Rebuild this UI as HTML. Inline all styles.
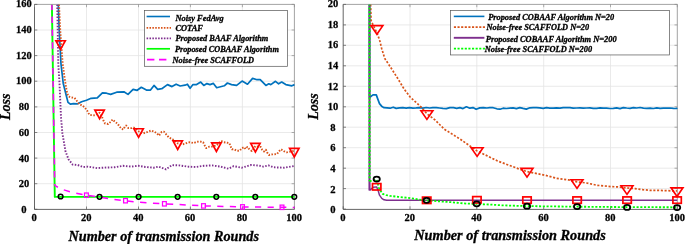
<!DOCTYPE html>
<html><head><meta charset="utf-8"><title>Loss vs transmission rounds</title>
<style>html,body{margin:0;padding:0;background:#fff;width:685px;height:244px;overflow:hidden}</style></head>
<body>
<svg width="685" height="244" viewBox="0 0 685 244" style="display:block;position:absolute;left:0;top:0;will-change:transform;font-family:'Liberation Serif',serif;font-weight:bold">
<rect width="685" height="244" fill="#fff"/>
<line x1="86.5" y1="4.4" x2="86.5" y2="209.3" stroke="#e4e4e4" stroke-width="0.8"/>
<line x1="138.5" y1="4.4" x2="138.5" y2="209.3" stroke="#e4e4e4" stroke-width="0.8"/>
<line x1="190.4" y1="4.4" x2="190.4" y2="209.3" stroke="#e4e4e4" stroke-width="0.8"/>
<line x1="242.4" y1="4.4" x2="242.4" y2="209.3" stroke="#e4e4e4" stroke-width="0.8"/>
<line x1="34.5" y1="183.7" x2="294.4" y2="183.7" stroke="#e4e4e4" stroke-width="0.8"/>
<line x1="34.5" y1="158.1" x2="294.4" y2="158.1" stroke="#e4e4e4" stroke-width="0.8"/>
<line x1="34.5" y1="132.5" x2="294.4" y2="132.5" stroke="#e4e4e4" stroke-width="0.8"/>
<line x1="34.5" y1="106.9" x2="294.4" y2="106.9" stroke="#e4e4e4" stroke-width="0.8"/>
<line x1="34.5" y1="81.2" x2="294.4" y2="81.2" stroke="#e4e4e4" stroke-width="0.8"/>
<line x1="34.5" y1="55.6" x2="294.4" y2="55.6" stroke="#e4e4e4" stroke-width="0.8"/>
<line x1="34.5" y1="30.0" x2="294.4" y2="30.0" stroke="#e4e4e4" stroke-width="0.8"/>
<polyline points="34.5,4.4 294.4,4.4 294.4,209.3" fill="none" stroke="#8c8c8c" stroke-width="0.8"/>
<polyline points="34.5,4.4 34.5,209.4 294.4,209.4" fill="none" stroke="#555" stroke-width="0.9"/>
<line x1="34.5" y1="209.3" x2="34.5" y2="206.5" stroke="#555" stroke-width="0.7"/>
<line x1="34.5" y1="4.4" x2="34.5" y2="7.2" stroke="#8c8c8c" stroke-width="0.7"/>
<line x1="86.5" y1="209.3" x2="86.5" y2="206.5" stroke="#555" stroke-width="0.7"/>
<line x1="86.5" y1="4.4" x2="86.5" y2="7.2" stroke="#8c8c8c" stroke-width="0.7"/>
<line x1="138.5" y1="209.3" x2="138.5" y2="206.5" stroke="#555" stroke-width="0.7"/>
<line x1="138.5" y1="4.4" x2="138.5" y2="7.2" stroke="#8c8c8c" stroke-width="0.7"/>
<line x1="190.4" y1="209.3" x2="190.4" y2="206.5" stroke="#555" stroke-width="0.7"/>
<line x1="190.4" y1="4.4" x2="190.4" y2="7.2" stroke="#8c8c8c" stroke-width="0.7"/>
<line x1="242.4" y1="209.3" x2="242.4" y2="206.5" stroke="#555" stroke-width="0.7"/>
<line x1="242.4" y1="4.4" x2="242.4" y2="7.2" stroke="#8c8c8c" stroke-width="0.7"/>
<line x1="294.4" y1="209.3" x2="294.4" y2="206.5" stroke="#555" stroke-width="0.7"/>
<line x1="294.4" y1="4.4" x2="294.4" y2="7.2" stroke="#8c8c8c" stroke-width="0.7"/>
<line x1="34.5" y1="209.3" x2="37.3" y2="209.3" stroke="#555" stroke-width="0.7"/>
<line x1="294.4" y1="209.3" x2="291.59999999999997" y2="209.3" stroke="#8c8c8c" stroke-width="0.7"/>
<line x1="34.5" y1="183.7" x2="37.3" y2="183.7" stroke="#555" stroke-width="0.7"/>
<line x1="294.4" y1="183.7" x2="291.59999999999997" y2="183.7" stroke="#8c8c8c" stroke-width="0.7"/>
<line x1="34.5" y1="158.1" x2="37.3" y2="158.1" stroke="#555" stroke-width="0.7"/>
<line x1="294.4" y1="158.1" x2="291.59999999999997" y2="158.1" stroke="#8c8c8c" stroke-width="0.7"/>
<line x1="34.5" y1="132.5" x2="37.3" y2="132.5" stroke="#555" stroke-width="0.7"/>
<line x1="294.4" y1="132.5" x2="291.59999999999997" y2="132.5" stroke="#8c8c8c" stroke-width="0.7"/>
<line x1="34.5" y1="106.9" x2="37.3" y2="106.9" stroke="#555" stroke-width="0.7"/>
<line x1="294.4" y1="106.9" x2="291.59999999999997" y2="106.9" stroke="#8c8c8c" stroke-width="0.7"/>
<line x1="34.5" y1="81.2" x2="37.3" y2="81.2" stroke="#555" stroke-width="0.7"/>
<line x1="294.4" y1="81.2" x2="291.59999999999997" y2="81.2" stroke="#8c8c8c" stroke-width="0.7"/>
<line x1="34.5" y1="55.6" x2="37.3" y2="55.6" stroke="#555" stroke-width="0.7"/>
<line x1="294.4" y1="55.6" x2="291.59999999999997" y2="55.6" stroke="#8c8c8c" stroke-width="0.7"/>
<line x1="34.5" y1="30.0" x2="37.3" y2="30.0" stroke="#555" stroke-width="0.7"/>
<line x1="294.4" y1="30.0" x2="291.59999999999997" y2="30.0" stroke="#8c8c8c" stroke-width="0.7"/>
<line x1="34.5" y1="4.4" x2="37.3" y2="4.4" stroke="#555" stroke-width="0.7"/>
<line x1="294.4" y1="4.4" x2="291.59999999999997" y2="4.4" stroke="#8c8c8c" stroke-width="0.7"/>
<clipPath id="cl"><rect x="34.5" y="4.4" width="260.3" height="205"/></clipPath>
<g clip-path="url(#cl)">
<polyline points="58.3,4.4 59.2,30.0 61.0,64.0 63.2,83.2 66.9,98.0 68.0,102.4 70.6,104.2 73.5,103.7 77.2,103.9 81.6,101.7 86.5,100.2 91.1,98.3 97.3,97.9 102.4,92.8 106.5,93.2 110.6,94.4 116.7,92.2 123.9,91.8 128.0,94.4 133.1,89.3 137.2,90.3 141.3,87.3 146.4,90.1 150.5,90.1 154.0,85.4 157.7,89.3 161.8,88.7 167.5,84.6 172.0,86.6 176.1,84.2 180.2,86.0 185.0,85.2 187.4,84.2 190.1,88.3 193.0,84.6 196.6,84.6 200.7,82.1 203.8,85.4 206.9,83.6 210.0,84.6 213.4,83.4 216.7,87.7 224.3,85.8 227.4,83.0 231.5,84.6 236.6,85.4 242.1,81.1 247.5,84.2 252.6,78.4 257.1,79.7 260.2,79.7 265.9,85.4 268.8,83.8 270.8,84.6 275.5,81.3 278.6,83.8 281.7,82.1 285.8,84.6 291.9,85.8 294.6,84.6" fill="none" stroke="#0072BD" stroke-width="1.7" stroke-linejoin="round"/>
<polyline points="59.0,4.4 60.2,30.0 62.7,64.0 64.7,78.7 66.6,90.5 67.3,93.6 68.6,96.5 71.3,97.4 74.5,97.9 76.3,100.1 78.1,102.8 79.9,104.6 82.6,105.5 84.9,107.8 87.1,110.5 88.5,113.2 89.7,115.0 94.9,115.4 99.6,112.7 102.3,117.7 103.6,120.8 105.0,123.5 108.1,124.0 110.8,121.7 112.6,119.5 114.9,121.7 117.6,123.7 119.4,126.4 121.7,129.0 123.5,129.4 124.8,126.7 126.2,125.5 128.4,128.1 131.6,128.1 133.8,127.6 136.5,129.5 138.6,131.3 142.7,133.5 146.3,132.3 151.3,130.5 154.4,131.7 157.1,133.5 159.0,135.6 161.7,131.9 163.9,131.7 166.2,134.4 168.9,137.5 172.5,139.2 177.5,143.3 182.4,144.3 185.1,143.7 187.8,142.5 190.0,142.2 193.6,143.1 196.8,141.8 199.9,141.5 203.1,142.2 204.4,144.9 206.2,148.1 209.4,146.7 211.7,146.6 216.5,145.4 221.1,140.9 223.8,142.2 227.0,142.7 229.3,143.1 230.6,146.3 232.0,149.3 234.2,149.3 236.9,150.8 239.6,150.8 241.9,148.1 244.2,147.2 245.5,149.1 247.3,147.0 249.5,149.3 251.8,151.1 255.4,146.1 260.8,147.0 262.1,149.7 264.0,151.5 265.9,149.7 267.1,152.4 268.9,155.0 272.1,154.4 277.0,154.1 278.8,151.5 281.1,149.3 283.8,151.1 286.5,152.4 289.7,151.7 294.4,150.9" fill="none" stroke="#D95319" stroke-width="1.9" stroke-linejoin="round" stroke-dasharray="1.5 1.5"/>
<polyline points="57.2,4.4 57.7,30.0 58.3,64.0 59.5,83.2 60.2,99.4 61.0,117.2 62.4,133.4 63.9,142.0 65.5,151.3 68.6,159.5 72.7,164.6 77.8,165.0 82.9,167.0 88.0,166.6 97.3,168.1 106.5,167.5 114.7,167.3 122.9,165.8 131.1,166.6 138.2,165.8 145.4,167.0 153.6,167.7 158.7,166.6 165.9,169.4 172.0,165.1 179.3,165.4 187.5,166.6 195.7,167.0 203.9,165.8 212.1,165.4 220.3,166.6 228.5,168.7 233.6,166.2 241.8,167.7 251.1,165.0 259.3,165.6 263.4,166.6 268.5,165.4 273.6,167.3 283.9,167.7 294.6,166.0" fill="none" stroke="#7E2F8E" stroke-width="1.9" stroke-linejoin="round" stroke-dasharray="1.5 1.55"/>
<polyline points="51.9,4.4 54.8,196.9 294.6,196.9" fill="none" stroke="#00FF00" stroke-width="1.9" stroke-linejoin="round"/>
<polyline points="51.9,4.4 54.7,185.4" fill="none" stroke="#FF00FF" stroke-width="1.6" stroke-linejoin="round" stroke-dasharray="6.4 6.47" stroke-dashoffset="0.67"/>
<polyline points="54.7,185.4 60.7,188.9 71.0,192.1 86.4,195.2 99.7,197.3 112.0,199.1 125.3,200.7 138.6,202.2 153.0,203.2 164.2,203.8" fill="none" stroke="#FF00FF" stroke-width="1.5" stroke-linejoin="round" stroke-dasharray="6.4 6.5" stroke-dashoffset="2.7"/>
<polyline points="164.2,203.8 203.5,205.9 242.5,206.9 282.0,207.3 294.6,207.4" fill="none" stroke="#FF00FF" stroke-width="1.5" stroke-linejoin="round" stroke-dasharray="6.2 6.38" stroke-dashoffset="9.78"/>
</g>
<path d="M55.90,40.73 L65.30,40.73 L60.60,49.33 Z" fill="none" stroke="#FF0000" stroke-width="1.7" stroke-linejoin="miter"/>
<path d="M94.90,110.13 L104.30,110.13 L99.60,118.73 Z" fill="none" stroke="#FF0000" stroke-width="1.7" stroke-linejoin="miter"/>
<path d="M133.90,128.73 L143.30,128.73 L138.60,137.33 Z" fill="none" stroke="#FF0000" stroke-width="1.7" stroke-linejoin="miter"/>
<path d="M173.00,140.83 L182.40,140.83 L177.70,149.43 Z" fill="none" stroke="#FF0000" stroke-width="1.7" stroke-linejoin="miter"/>
<path d="M211.70,142.83 L221.10,142.83 L216.40,151.43 Z" fill="none" stroke="#FF0000" stroke-width="1.7" stroke-linejoin="miter"/>
<path d="M250.70,143.43 L260.10,143.43 L255.40,152.03 Z" fill="none" stroke="#FF0000" stroke-width="1.7" stroke-linejoin="miter"/>
<path d="M289.60,148.33 L299.00,148.33 L294.30,156.93 Z" fill="none" stroke="#FF0000" stroke-width="1.7" stroke-linejoin="miter"/>
<ellipse cx="60.6" cy="196.5" rx="2.35" ry="2.35" fill="none" stroke="#000" stroke-width="1.5"/>
<ellipse cx="99.5" cy="196.8" rx="2.35" ry="2.35" fill="none" stroke="#000" stroke-width="1.5"/>
<ellipse cx="138.6" cy="196.8" rx="2.35" ry="2.35" fill="none" stroke="#000" stroke-width="1.5"/>
<ellipse cx="177.6" cy="196.8" rx="2.35" ry="2.35" fill="none" stroke="#000" stroke-width="1.5"/>
<ellipse cx="216.3" cy="196.8" rx="2.35" ry="2.35" fill="none" stroke="#000" stroke-width="1.5"/>
<ellipse cx="255.3" cy="196.8" rx="2.35" ry="2.35" fill="none" stroke="#000" stroke-width="1.5"/>
<ellipse cx="294.3" cy="196.8" rx="2.35" ry="2.35" fill="none" stroke="#000" stroke-width="1.5"/>
<rect x="84.50" y="193.00" width="3.8" height="4.4" fill="none" stroke="#FF00FF" stroke-width="1.25"/>
<rect x="123.60" y="198.50" width="3.8" height="4.4" fill="none" stroke="#FF00FF" stroke-width="1.25"/>
<rect x="162.50" y="201.60" width="3.8" height="4.4" fill="none" stroke="#FF00FF" stroke-width="1.25"/>
<rect x="201.60" y="203.70" width="3.8" height="4.4" fill="none" stroke="#FF00FF" stroke-width="1.25"/>
<rect x="240.60" y="204.70" width="3.8" height="4.4" fill="none" stroke="#FF00FF" stroke-width="1.25"/>
<rect x="280.10" y="205.10" width="3.8" height="4.4" fill="none" stroke="#FF00FF" stroke-width="1.25"/>
<line x1="410.0" y1="4.4" x2="410.0" y2="209.1" stroke="#e4e4e4" stroke-width="0.8"/>
<line x1="476.8" y1="4.4" x2="476.8" y2="209.1" stroke="#e4e4e4" stroke-width="0.8"/>
<line x1="543.7" y1="4.4" x2="543.7" y2="209.1" stroke="#e4e4e4" stroke-width="0.8"/>
<line x1="610.5" y1="4.4" x2="610.5" y2="209.1" stroke="#e4e4e4" stroke-width="0.8"/>
<line x1="343.2" y1="188.6" x2="677.3" y2="188.6" stroke="#e4e4e4" stroke-width="0.8"/>
<line x1="343.2" y1="168.2" x2="677.3" y2="168.2" stroke="#e4e4e4" stroke-width="0.8"/>
<line x1="343.2" y1="147.7" x2="677.3" y2="147.7" stroke="#e4e4e4" stroke-width="0.8"/>
<line x1="343.2" y1="127.2" x2="677.3" y2="127.2" stroke="#e4e4e4" stroke-width="0.8"/>
<line x1="343.2" y1="106.8" x2="677.3" y2="106.8" stroke="#e4e4e4" stroke-width="0.8"/>
<line x1="343.2" y1="86.3" x2="677.3" y2="86.3" stroke="#e4e4e4" stroke-width="0.8"/>
<line x1="343.2" y1="65.8" x2="677.3" y2="65.8" stroke="#e4e4e4" stroke-width="0.8"/>
<line x1="343.2" y1="45.3" x2="677.3" y2="45.3" stroke="#e4e4e4" stroke-width="0.8"/>
<line x1="343.2" y1="24.9" x2="677.3" y2="24.9" stroke="#e4e4e4" stroke-width="0.8"/>
<polyline points="343.2,4.4 677.3,4.4 677.3,209.1" fill="none" stroke="#8c8c8c" stroke-width="0.8"/>
<polyline points="343.2,4.4 343.2,209.4 677.3,209.4" fill="none" stroke="#555" stroke-width="0.9"/>
<line x1="343.2" y1="209.1" x2="343.2" y2="206.29999999999998" stroke="#555" stroke-width="0.7"/>
<line x1="343.2" y1="4.4" x2="343.2" y2="7.2" stroke="#8c8c8c" stroke-width="0.7"/>
<line x1="410.0" y1="209.1" x2="410.0" y2="206.29999999999998" stroke="#555" stroke-width="0.7"/>
<line x1="410.0" y1="4.4" x2="410.0" y2="7.2" stroke="#8c8c8c" stroke-width="0.7"/>
<line x1="476.8" y1="209.1" x2="476.8" y2="206.29999999999998" stroke="#555" stroke-width="0.7"/>
<line x1="476.8" y1="4.4" x2="476.8" y2="7.2" stroke="#8c8c8c" stroke-width="0.7"/>
<line x1="543.7" y1="209.1" x2="543.7" y2="206.29999999999998" stroke="#555" stroke-width="0.7"/>
<line x1="543.7" y1="4.4" x2="543.7" y2="7.2" stroke="#8c8c8c" stroke-width="0.7"/>
<line x1="610.5" y1="209.1" x2="610.5" y2="206.29999999999998" stroke="#555" stroke-width="0.7"/>
<line x1="610.5" y1="4.4" x2="610.5" y2="7.2" stroke="#8c8c8c" stroke-width="0.7"/>
<line x1="677.3" y1="209.1" x2="677.3" y2="206.29999999999998" stroke="#555" stroke-width="0.7"/>
<line x1="677.3" y1="4.4" x2="677.3" y2="7.2" stroke="#8c8c8c" stroke-width="0.7"/>
<line x1="343.2" y1="209.1" x2="346.0" y2="209.1" stroke="#555" stroke-width="0.7"/>
<line x1="677.3" y1="209.1" x2="674.5" y2="209.1" stroke="#8c8c8c" stroke-width="0.7"/>
<line x1="343.2" y1="188.6" x2="346.0" y2="188.6" stroke="#555" stroke-width="0.7"/>
<line x1="677.3" y1="188.6" x2="674.5" y2="188.6" stroke="#8c8c8c" stroke-width="0.7"/>
<line x1="343.2" y1="168.2" x2="346.0" y2="168.2" stroke="#555" stroke-width="0.7"/>
<line x1="677.3" y1="168.2" x2="674.5" y2="168.2" stroke="#8c8c8c" stroke-width="0.7"/>
<line x1="343.2" y1="147.7" x2="346.0" y2="147.7" stroke="#555" stroke-width="0.7"/>
<line x1="677.3" y1="147.7" x2="674.5" y2="147.7" stroke="#8c8c8c" stroke-width="0.7"/>
<line x1="343.2" y1="127.2" x2="346.0" y2="127.2" stroke="#555" stroke-width="0.7"/>
<line x1="677.3" y1="127.2" x2="674.5" y2="127.2" stroke="#8c8c8c" stroke-width="0.7"/>
<line x1="343.2" y1="106.8" x2="346.0" y2="106.8" stroke="#555" stroke-width="0.7"/>
<line x1="677.3" y1="106.8" x2="674.5" y2="106.8" stroke="#8c8c8c" stroke-width="0.7"/>
<line x1="343.2" y1="86.3" x2="346.0" y2="86.3" stroke="#555" stroke-width="0.7"/>
<line x1="677.3" y1="86.3" x2="674.5" y2="86.3" stroke="#8c8c8c" stroke-width="0.7"/>
<line x1="343.2" y1="65.8" x2="346.0" y2="65.8" stroke="#555" stroke-width="0.7"/>
<line x1="677.3" y1="65.8" x2="674.5" y2="65.8" stroke="#8c8c8c" stroke-width="0.7"/>
<line x1="343.2" y1="45.3" x2="346.0" y2="45.3" stroke="#555" stroke-width="0.7"/>
<line x1="677.3" y1="45.3" x2="674.5" y2="45.3" stroke="#8c8c8c" stroke-width="0.7"/>
<line x1="343.2" y1="24.9" x2="346.0" y2="24.9" stroke="#555" stroke-width="0.7"/>
<line x1="677.3" y1="24.9" x2="674.5" y2="24.9" stroke="#8c8c8c" stroke-width="0.7"/>
<line x1="343.2" y1="4.4" x2="346.0" y2="4.4" stroke="#555" stroke-width="0.7"/>
<line x1="677.3" y1="4.4" x2="674.5" y2="4.4" stroke="#8c8c8c" stroke-width="0.7"/>
<clipPath id="cr"><rect x="343.2" y="4.4" width="334.5" height="204.7"/></clipPath>
<g clip-path="url(#cr)">
<polyline points="369.5,4.4 369.5,97.5 373.0,94.8 376.3,94.9 378.0,99.6 379.5,103.6 382.0,106.6 384.0,107.7 390.1,108.2 393.2,107.2 396.2,108.4 399.5,107.9 402.8,107.7 406.2,108.2 409.5,107.6 412.9,108.1 416.2,107.9 419.5,107.6 422.9,108.1 426.2,107.5 429.6,108.0 432.9,107.6 436.3,107.6 439.6,108.0 442.9,108.4 446.3,108.6 449.9,107.6 453.5,107.6 456.7,108.3 459.9,107.6 463.0,108.6 466.4,106.8 469.8,108.2 473.0,107.6 476.1,109.3 479.7,107.9 483.3,107.6 486.9,108.0 489.7,107.7 493.2,107.7 496.9,108.8 500.0,109.2 503.1,108.2 506.4,108.5 509.8,108.1 513.1,107.9 516.4,108.6 519.8,107.6 523.1,108.4 526.3,109.1 529.8,107.8 533.1,107.7 536.5,107.6 539.8,107.8 543.2,108.4 546.5,107.7 549.8,108.1 553.2,108.2 556.5,107.9 559.9,108.1 563.2,107.6 566.6,107.6 569.9,107.7 573.2,108.2 576.6,108.0 579.9,107.8 583.3,108.1 586.6,108.0 589.9,107.8 593.3,108.4 596.6,108.3 600.0,107.8 603.3,108.1 606.6,108.1 610.0,108.5 613.3,108.3 616.7,107.8 620.0,108.6 623.3,107.6 626.7,108.0 630.0,108.3 633.4,107.7 636.7,108.0 640.1,107.5 643.4,108.2 646.7,108.3 650.1,108.1 653.4,108.5 656.8,107.8 660.1,108.3 663.4,108.2 666.8,108.1 670.1,108.0 673.5,108.4 676.8,108.5 677.3,107.8" fill="none" stroke="#0072BD" stroke-width="1.7" stroke-linejoin="round"/>
<polyline points="370.6,4.4 371.1,20.5 373.5,26.0 376.9,32.8 379.6,40.0 381.6,48.2 384.7,58.4 390.9,67.7 398.0,78.9 404.2,89.2 410.5,97.4 420.7,106.6 426.9,113.8 435.1,120.0 444.3,129.2 460.7,139.5 476.7,150.7 497.6,161.0 518.1,168.6 527.0,171.6 545.0,175.2 556.7,178.3 568.5,179.9 577.0,181.8 586.5,183.0 597.3,185.3 604.6,186.0 611.0,186.6 619.0,187.0 627.0,188.0 635.0,188.6 643.0,189.7 650.5,190.4 658.7,190.4 677.3,191.0" fill="none" stroke="#D95319" stroke-width="1.7" stroke-linejoin="round" stroke-dasharray="2.1 1.65"/>
<polyline points="369.5,4.4 369.5,190.4" fill="none" stroke="#7E2F8E" stroke-width="2.1" stroke-linejoin="round"/>
<polyline points="369.5,190.4 373.3,187.2 376.7,186.9 378.2,190.7 379.5,195.2 381.8,198.4 384.0,199.8 386.7,200.3 677.3,200.3" fill="none" stroke="#7E2F8E" stroke-width="1.45" stroke-linejoin="round"/>
<polyline points="369.5,4.4 369.6,181.3" fill="none" stroke="#00FF00" stroke-width="2.1" stroke-linejoin="round" stroke-dasharray="1.9 1.85" stroke-dashoffset="0.6"/>
<polyline points="369.6,181.3 373.3,180.3 376.7,179.7 378.0,184.6 378.9,187.8 380.4,190.7 382.7,193.9 386.3,195.2 390.3,195.9 398.0,196.8 406.1,197.7 414.7,198.8 419.2,199.6 426.6,200.4 442.7,201.6 450.8,202.2 459.0,203.0 467.0,203.6 476.6,203.9 484.2,204.3 492.3,204.7 499.6,205.2 510.0,205.6 519.9,205.9 527.0,206.1 551.0,206.4 577.0,206.7 627.0,207.1 677.3,207.3" fill="none" stroke="#00FF00" stroke-width="1.8" stroke-linejoin="round" stroke-dasharray="2.1 1.65"/>
</g>
<path d="M370.95,25.60 L382.85,25.60 L376.90,34.30 Z" fill="none" stroke="#FF0000" stroke-width="1.65" stroke-linejoin="miter"/>
<path d="M420.95,110.70 L432.85,110.70 L426.90,119.40 Z" fill="none" stroke="#FF0000" stroke-width="1.65" stroke-linejoin="miter"/>
<path d="M471.15,147.70 L483.05,147.70 L477.10,156.40 Z" fill="none" stroke="#FF0000" stroke-width="1.65" stroke-linejoin="miter"/>
<path d="M521.05,168.40 L532.95,168.40 L527.00,177.10 Z" fill="none" stroke="#FF0000" stroke-width="1.65" stroke-linejoin="miter"/>
<path d="M571.05,179.70 L582.95,179.70 L577.00,188.40 Z" fill="none" stroke="#FF0000" stroke-width="1.65" stroke-linejoin="miter"/>
<path d="M621.05,185.70 L632.95,185.70 L627.00,194.40 Z" fill="none" stroke="#FF0000" stroke-width="1.65" stroke-linejoin="miter"/>
<path d="M671.05,187.80 L682.95,187.80 L677.00,196.50 Z" fill="none" stroke="#FF0000" stroke-width="1.65" stroke-linejoin="miter"/>
<rect x="372.50" y="183.60" width="8.4" height="6.4" fill="none" stroke="#FF0000" stroke-width="1.7"/>
<rect x="422.50" y="197.10" width="8.4" height="6.4" fill="none" stroke="#FF0000" stroke-width="1.7"/>
<rect x="472.70" y="196.60" width="8.4" height="6.4" fill="none" stroke="#FF0000" stroke-width="1.7"/>
<rect x="522.80" y="196.90" width="8.4" height="6.4" fill="none" stroke="#FF0000" stroke-width="1.7"/>
<rect x="572.90" y="196.90" width="8.4" height="6.4" fill="none" stroke="#FF0000" stroke-width="1.7"/>
<rect x="622.90" y="196.90" width="8.4" height="6.4" fill="none" stroke="#FF0000" stroke-width="1.7"/>
<rect x="672.90" y="196.90" width="8.4" height="6.4" fill="none" stroke="#FF0000" stroke-width="1.7"/>
<ellipse cx="376.7" cy="179.1" rx="3.15" ry="2.5" fill="none" stroke="#000" stroke-width="1.75"/>
<ellipse cx="426.6" cy="200.3" rx="3.15" ry="2.5" fill="none" stroke="#000" stroke-width="1.75"/>
<ellipse cx="476.7" cy="203.8" rx="3.15" ry="2.5" fill="none" stroke="#000" stroke-width="1.75"/>
<ellipse cx="527.0" cy="206.2" rx="3.15" ry="2.5" fill="none" stroke="#000" stroke-width="1.75"/>
<ellipse cx="577.1" cy="206.6" rx="3.15" ry="2.5" fill="none" stroke="#000" stroke-width="1.75"/>
<ellipse cx="627.1" cy="207.4" rx="3.15" ry="2.5" fill="none" stroke="#000" stroke-width="1.75"/>
<ellipse cx="677.1" cy="207.5" rx="3.15" ry="2.5" fill="none" stroke="#000" stroke-width="1.75"/>
<text x="34.2" y="221.3" font-size="11.0" text-anchor="middle" textLength="5.3" lengthAdjust="spacingAndGlyphs" stroke="#000" stroke-width="0.28">0</text>
<text x="343.0" y="221.4" font-size="11.0" text-anchor="middle" textLength="5.3" lengthAdjust="spacingAndGlyphs" stroke="#000" stroke-width="0.28">0</text>
<text x="86.2" y="221.3" font-size="11.0" text-anchor="middle" textLength="10.5" lengthAdjust="spacingAndGlyphs" stroke="#000" stroke-width="0.28">20</text>
<text x="409.8" y="221.4" font-size="11.0" text-anchor="middle" textLength="10.5" lengthAdjust="spacingAndGlyphs" stroke="#000" stroke-width="0.28">20</text>
<text x="138.2" y="221.3" font-size="11.0" text-anchor="middle" textLength="10.5" lengthAdjust="spacingAndGlyphs" stroke="#000" stroke-width="0.28">40</text>
<text x="476.6" y="221.4" font-size="11.0" text-anchor="middle" textLength="10.5" lengthAdjust="spacingAndGlyphs" stroke="#000" stroke-width="0.28">40</text>
<text x="190.1" y="221.3" font-size="11.0" text-anchor="middle" textLength="10.5" lengthAdjust="spacingAndGlyphs" stroke="#000" stroke-width="0.28">60</text>
<text x="543.5" y="221.4" font-size="11.0" text-anchor="middle" textLength="10.5" lengthAdjust="spacingAndGlyphs" stroke="#000" stroke-width="0.28">60</text>
<text x="242.1" y="221.3" font-size="11.0" text-anchor="middle" textLength="10.5" lengthAdjust="spacingAndGlyphs" stroke="#000" stroke-width="0.28">80</text>
<text x="610.3" y="221.4" font-size="11.0" text-anchor="middle" textLength="10.5" lengthAdjust="spacingAndGlyphs" stroke="#000" stroke-width="0.28">80</text>
<text x="294.1" y="221.3" font-size="11.0" text-anchor="middle" textLength="15.7" lengthAdjust="spacingAndGlyphs" stroke="#000" stroke-width="0.28">100</text>
<text x="677.1" y="221.4" font-size="11.0" text-anchor="middle" textLength="15.7" lengthAdjust="spacingAndGlyphs" stroke="#000" stroke-width="0.28">100</text>
<text x="23.9" y="213.1" font-size="11.0" text-anchor="middle" textLength="5.3" lengthAdjust="spacingAndGlyphs" stroke="#000" stroke-width="0.28">0</text>
<text x="23.9" y="187.4" font-size="11.0" text-anchor="middle" textLength="10.5" lengthAdjust="spacingAndGlyphs" stroke="#000" stroke-width="0.28">20</text>
<text x="23.9" y="161.7" font-size="11.0" text-anchor="middle" textLength="10.5" lengthAdjust="spacingAndGlyphs" stroke="#000" stroke-width="0.28">40</text>
<text x="23.9" y="135.9" font-size="11.0" text-anchor="middle" textLength="10.5" lengthAdjust="spacingAndGlyphs" stroke="#000" stroke-width="0.28">60</text>
<text x="23.9" y="110.2" font-size="11.0" text-anchor="middle" textLength="10.5" lengthAdjust="spacingAndGlyphs" stroke="#000" stroke-width="0.28">80</text>
<text x="23.9" y="84.4" font-size="11.0" text-anchor="middle" textLength="15.7" lengthAdjust="spacingAndGlyphs" stroke="#000" stroke-width="0.28">100</text>
<text x="23.9" y="58.7" font-size="11.0" text-anchor="middle" textLength="15.7" lengthAdjust="spacingAndGlyphs" stroke="#000" stroke-width="0.28">120</text>
<text x="23.9" y="32.9" font-size="11.0" text-anchor="middle" textLength="15.7" lengthAdjust="spacingAndGlyphs" stroke="#000" stroke-width="0.28">140</text>
<text x="23.9" y="7.2" font-size="11.0" text-anchor="middle" textLength="15.7" lengthAdjust="spacingAndGlyphs" stroke="#000" stroke-width="0.28">160</text>
<text x="333.0" y="213.1" font-size="11.0" text-anchor="middle" textLength="5.3" lengthAdjust="spacingAndGlyphs" stroke="#000" stroke-width="0.28">0</text>
<text x="333.0" y="192.6" font-size="11.0" text-anchor="middle" textLength="5.3" lengthAdjust="spacingAndGlyphs" stroke="#000" stroke-width="0.28">2</text>
<text x="333.0" y="172.0" font-size="11.0" text-anchor="middle" textLength="5.3" lengthAdjust="spacingAndGlyphs" stroke="#000" stroke-width="0.28">4</text>
<text x="333.0" y="151.4" font-size="11.0" text-anchor="middle" textLength="5.3" lengthAdjust="spacingAndGlyphs" stroke="#000" stroke-width="0.28">6</text>
<text x="333.0" y="130.8" font-size="11.0" text-anchor="middle" textLength="5.3" lengthAdjust="spacingAndGlyphs" stroke="#000" stroke-width="0.28">8</text>
<text x="333.0" y="110.2" font-size="11.0" text-anchor="middle" textLength="10.5" lengthAdjust="spacingAndGlyphs" stroke="#000" stroke-width="0.28">10</text>
<text x="333.0" y="89.6" font-size="11.0" text-anchor="middle" textLength="10.5" lengthAdjust="spacingAndGlyphs" stroke="#000" stroke-width="0.28">12</text>
<text x="333.0" y="69.0" font-size="11.0" text-anchor="middle" textLength="10.5" lengthAdjust="spacingAndGlyphs" stroke="#000" stroke-width="0.28">14</text>
<text x="333.0" y="48.4" font-size="11.0" text-anchor="middle" textLength="10.5" lengthAdjust="spacingAndGlyphs" stroke="#000" stroke-width="0.28">16</text>
<text x="333.0" y="27.8" font-size="11.0" text-anchor="middle" textLength="10.5" lengthAdjust="spacingAndGlyphs" stroke="#000" stroke-width="0.28">18</text>
<text x="333.0" y="7.2" font-size="11.0" text-anchor="middle" textLength="10.5" lengthAdjust="spacingAndGlyphs" stroke="#000" stroke-width="0.28">20</text>
<text x="68.5" y="240.5" font-size="14.2" text-anchor="start" font-style="italic" textLength="190.5" lengthAdjust="spacingAndGlyphs" stroke="#000" stroke-width="0.3">Number of transmission Rounds</text>
<text x="414.3" y="240.2" font-size="14.2" text-anchor="start" font-style="italic" textLength="191.5" lengthAdjust="spacingAndGlyphs" stroke="#000" stroke-width="0.3">Number of transmission Rounds</text>
<text transform="translate(9.8,120) rotate(-90)" font-size="14.5" font-style="italic" textLength="26.4" lengthAdjust="spacingAndGlyphs" stroke="#000" stroke-width="0.3">Loss</text>
<text transform="translate(317.9,119.8) rotate(-90)" font-size="14.5" font-style="italic" textLength="26.4" lengthAdjust="spacingAndGlyphs" stroke="#000" stroke-width="0.3">Loss</text>
<rect x="144.4" y="10.5" width="143.2" height="55.8" fill="#fff" stroke="#555" stroke-width="0.7"/>
<line x1="146.6" x2="170" y1="16.5" y2="16.5" stroke="#0072BD" stroke-width="1.6"/>
<line x1="146.6" x2="171" y1="27.8" y2="27.8" stroke="#D95319" stroke-width="1.7" stroke-dasharray="1.55 1.33"/>
<line x1="146.6" x2="171" y1="38.35" y2="38.35" stroke="#7E2F8E" stroke-width="1.7" stroke-dasharray="1.55 1.33"/>
<line x1="146.6" x2="170" y1="48.8" y2="48.8" stroke="#00FF00" stroke-width="1.7"/>
<line x1="147" x2="166.4" y1="59.7" y2="59.7" stroke="#FF00FF" stroke-width="1.7" stroke-dasharray="7.4 4.6"/>
<text x="175.4" y="20.6" font-size="8.3" text-anchor="start" font-style="italic" textLength="48.2" lengthAdjust="spacingAndGlyphs" stroke="#000" stroke-width="0.3">Noisy FedAvg</text>
<text x="175.4" y="31.1" font-size="8.3" text-anchor="start" font-style="italic" textLength="27.6" lengthAdjust="spacingAndGlyphs" stroke="#000" stroke-width="0.3">COTAF</text>
<text x="175.4" y="41.1" font-size="8.3" text-anchor="start" font-style="italic" textLength="92.9" lengthAdjust="spacingAndGlyphs" stroke="#000" stroke-width="0.3">Proposed BAAF Algorithm</text>
<text x="174.9" y="51.7" font-size="8.3" text-anchor="start" font-style="italic" textLength="104" lengthAdjust="spacingAndGlyphs" stroke="#000" stroke-width="0.3">Proposed COBAAF Algorithm</text>
<text x="172.6" y="63.0" font-size="8.3" text-anchor="start" font-style="italic" textLength="81.5" lengthAdjust="spacingAndGlyphs" stroke="#000" stroke-width="0.3">Noise-free SCAFFOLD</text>
<rect x="450.6" y="10.5" width="218.8" height="44.45" fill="#fff" stroke="#555" stroke-width="0.7"/>
<line x1="453.8" x2="484.4" y1="16.4" y2="16.4" stroke="#0072BD" stroke-width="1.6"/>
<line x1="453.9" x2="485.0" y1="27.1" y2="27.1" stroke="#D95319" stroke-width="1.8" stroke-dasharray="2.1 1.52"/>
<line x1="453.8" x2="484.4" y1="37.8" y2="37.8" stroke="#7E2F8E" stroke-width="1.9"/>
<line x1="453.9" x2="485.0" y1="48.6" y2="48.6" stroke="#00FF00" stroke-width="1.8" stroke-dasharray="2.1 1.52"/>
<text x="488.2" y="19.6" font-size="8.3" text-anchor="start" font-style="italic" textLength="126.0" lengthAdjust="spacingAndGlyphs" stroke="#000" stroke-width="0.3">Proposed COBAAF Algorithm N=20</text>
<text x="486.6" y="30.0" font-size="8.3" text-anchor="start" font-style="italic" textLength="102.6" lengthAdjust="spacingAndGlyphs" stroke="#000" stroke-width="0.3">Noise-free SCAFFOLD N=20</text>
<text x="485.8" y="41.5" font-size="8.3" text-anchor="start" font-style="italic" textLength="130.8" lengthAdjust="spacingAndGlyphs" stroke="#000" stroke-width="0.3">Proposed COBAAF Algorithm N=200</text>
<text x="484.8" y="51.7" font-size="8.3" text-anchor="start" font-style="italic" textLength="107.3" lengthAdjust="spacingAndGlyphs" stroke="#000" stroke-width="0.3">Noise-free SCAFFOLD N=200</text>
</svg>
</body></html>
